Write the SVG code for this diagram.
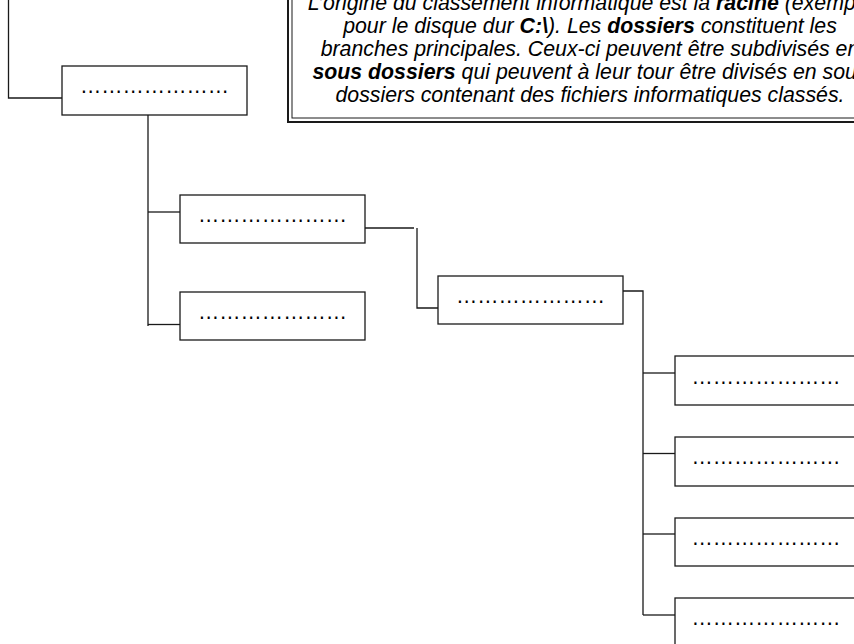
<svg xmlns="http://www.w3.org/2000/svg" width="854" height="644" viewBox="0 0 854 644">
<style>
.box{fill:#fff;stroke:#1a1a1a;stroke-width:1.3}
.dots{font-family:"Liberation Sans",Arial,sans-serif;font-size:21.3px;fill:#000;text-anchor:middle}
.ln{fill:none;stroke:#1a1a1a;stroke-width:1.3}
.note{font-family:"Liberation Sans",Arial,sans-serif;font-size:21.3px;font-style:italic;fill:#000;text-anchor:middle}
.b{font-weight:bold}
</style>
<rect width="854" height="644" fill="#fff"/>
<g id="note">
<rect x="288" y="-60" width="604" height="182" fill="#fff" stroke="#1a1a1a" stroke-width="2"/>
<rect x="292" y="-56" width="596" height="174" fill="none" stroke="#1a1a1a" stroke-width="1"/>
<text class="note" x="590" y="10">L’origine du classement informatique est la <tspan class="b">racine</tspan> (exemple</text>
<text class="note" x="590" y="33">pour le disque dur <tspan class="b">C:\</tspan>). Les <tspan class="b">dossiers</tspan> constituent les</text>
<text class="note" x="590" y="56">branches principales. Ceux-ci peuvent être subdivisés en</text>
<text class="note" x="590" y="79"><tspan class="b">sous dossiers</tspan> qui peuvent à leur tour être divisés en sous</text>
<text class="note" x="590" y="102">dossiers contenant des fichiers informatiques classés.</text>
</g>
<g id="connectors">
<polyline class="ln" points="8.5,0 8.5,98 62,98"/>
<line class="ln" x1="148" y1="115" x2="148" y2="326"/>
<line class="ln" x1="148" y1="212" x2="180" y2="212"/>
<line class="ln" x1="148" y1="324.5" x2="180" y2="324.5"/>
<line class="ln" x1="363" y1="228" x2="414" y2="228"/>
<polyline class="ln" points="417,228 417,308 438,308"/>
<polyline class="ln" points="621,291 643,291 643,615"/>
<line class="ln" x1="643" y1="373" x2="675" y2="373"/>
<line class="ln" x1="643" y1="453.5" x2="675" y2="453.5"/>
<line class="ln" x1="643" y1="534" x2="675" y2="534"/>
<line class="ln" x1="643" y1="615" x2="675" y2="615"/>
</g>
<g id="n1"><rect class="box" x="62" y="66" width="185" height="49"/><text class="dots" x="154.5" y="93">…………………</text></g>
<g id="n2"><rect class="box" x="180" y="195" width="185" height="48"/><text class="dots" x="272.5" y="222">…………………</text></g>
<g id="n3"><rect class="box" x="180" y="292" width="185" height="48"/><text class="dots" x="272.5" y="319">…………………</text></g>
<g id="n4"><rect class="box" x="438" y="276" width="185" height="48"/><text class="dots" x="530.5" y="303">…………………</text></g>
<g id="n5"><rect class="box" x="675" y="356" width="185" height="49"/><text class="dots" x="766" y="383.5">…………………</text></g>
<g id="n6"><rect class="box" x="675" y="437" width="185" height="49"/><text class="dots" x="766" y="464">…………………</text></g>
<g id="n7"><rect class="box" x="675" y="518" width="185" height="48"/><text class="dots" x="766" y="544.5">…………………</text></g>
<g id="n8"><rect class="box" x="675" y="598" width="185" height="49"/><text class="dots" x="766" y="625">…………………</text></g>
</svg>
